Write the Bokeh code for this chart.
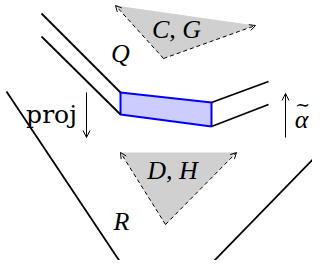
from bokeh.plotting import figure
from bokeh.models import Range1d, Arrow, OpenHead
from bokeh.core.properties import value
from bokeh.embed import file_html
from bokeh.resources import INLINE

# Diagram geometry (picture pixel coordinates, y downward)
q_upper_x = [41, 120]; q_upper_y = [13, 92]
q_lower_x = [41, 120]; q_lower_y = [36, 114]
quad_x = [120, 211, 211, 120]; quad_y = [92, 102, 126, 114]
r_upper_x = [211, 268]; r_upper_y = [102, 81]
r_lower_x = [211, 268]; r_lower_y = [126, 104]
v_left_x = [6, 120]; v_left_y = [91, 262]
v_bottom_x = [120, 212]; v_bottom_y = [262, 262]
v_right_x = [212, 319]; v_right_y = [262, 152]
tri_top_x = [115, 255, 163]; tri_top_y = [5, 25, 58]
tri_bot_x = [120, 236, 165]; tri_bot_y = [152, 152, 224]
proj_arrow = [86, 92, 86, 137]
alpha_arrow = [285, 137, 285, 93]
labels = ["Q", "C, G", "D, H", "R"]
label_x = [120, 176, 172, 121]
label_y = [53, 29, 170, 221]

p = figure(width=312, height=260, output_backend="svg", toolbar_location=None,
           x_range=Range1d(0, 312), y_range=Range1d(260, 0), min_border=0)
p.axis.visible = False
p.grid.visible = False
p.outline_line_color = None

# gray triangles
p.patch(tri_top_x, tri_top_y, fill_color="#d0d0d0", line_color=None)
p.patch(tri_bot_x, tri_bot_y, fill_color="#d0d0d0", line_color=None)
for tx, ty in ((tri_top_x, tri_top_y), (tri_bot_x, tri_bot_y)):
    for i in (0, 1):
        p.add_layout(Arrow(x_start=tx[2], y_start=ty[2], x_end=tx[i], y_end=ty[i],
                           line_color="black", line_width=1, line_dash="4 3",
                           end=OpenHead(size=6, line_width=1, line_color="black")))

# blue quad
p.patch(quad_x, quad_y, fill_color="#ccccff", line_color="#0000ff", line_width=2)

for xs, ys in ((q_upper_x, q_upper_y), (q_lower_x, q_lower_y), (r_upper_x, r_upper_y),
               (r_lower_x, r_lower_y), (v_left_x, v_left_y), (v_right_x, v_right_y)):
    p.line(xs, ys, line_color="black", line_width=1.8)
p.line(v_bottom_x, v_bottom_y, line_color="#0000ff", line_width=2.2)

for a in (proj_arrow, alpha_arrow):
    p.add_layout(Arrow(x_start=a[0], y_start=a[1], x_end=a[2], y_end=a[3],
                       line_color="black", line_width=1,
                       end=OpenHead(size=7, line_width=1, line_color="black")))

p.text(x=label_x, y=label_y, text=labels, text_font=value("Liberation Serif"),
       text_font_style="italic", text_font_size="26px", text_align="center",
       text_baseline="middle", text_color="black")
p.text(x=[51], y=[114], text=["proj"], text_font=value("DejaVu Serif"),
       text_font_size="25px", text_align="center", text_baseline="middle", text_color="black")
p.text(x=[301], y=[119], text=["\u03b1"], text_font=value("Liberation Serif"),
       text_font_style="italic", text_font_size="26px", text_align="center",
       text_baseline="middle", text_color="black")
p.text(x=[302], y=[104], text=["\u223c"], text_font=value("DejaVu Serif"),
       text_font_size="18px", text_align="center",
       text_baseline="middle", text_color="black")

open("out.html", "w").write(file_html(p, INLINE))
